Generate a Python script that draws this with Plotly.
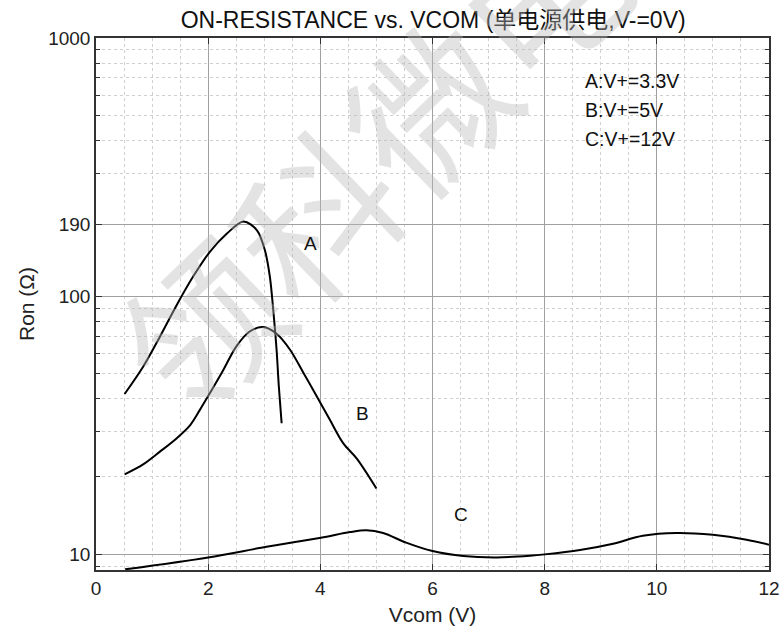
import plotly.graph_objects as go

# ---- data ----
a_x = [0.51, 0.84, 1.14, 1.44, 1.74, 2.03, 2.33, 2.63, 2.87, 3.01, 3.10, 3.16, 3.22, 3.26, 3.31]
a_y = [41.8, 53.3, 69.7, 92.5, 119.9, 148.5, 174.4, 194.7, 180.0, 151.0, 119.0, 88.5, 61.9, 44.7, 32.2]

b_x = [0.51, 0.84, 1.14, 1.44, 1.68, 1.85, 2.03, 2.27, 2.50, 2.74, 2.98, 3.22, 3.46, 3.70, 3.94, 4.17, 4.41, 4.65, 5.00]
b_y = [20.4, 22.3, 25.0, 28.2, 31.7, 36.2, 42.1, 51.8, 63.8, 73.0, 75.9, 71.5, 62.0, 50.4, 40.8, 33.2, 26.9, 23.5, 18.0]

c_x = [0.52, 2.0, 3.04, 4.01, 4.53, 4.82, 5.12, 5.53, 6.0, 6.55, 7.15, 7.74, 8.0, 8.63, 9.22, 9.75, 10.35, 11.0, 11.6, 12.0]
c_y = [8.75, 9.73, 10.7, 11.6, 12.2, 12.4, 12.1, 11.1, 10.3, 9.85, 9.73, 9.88, 10.0, 10.4, 11.0, 11.8, 12.1, 11.9, 11.4, 10.9]

y_ticks = [10, 100, 190, 1000]
y_tick_labels = ["10", "100", "190", "1000"]
y_minor = [9, 20, 30, 40, 50, 60, 70, 80, 90, 300, 400, 500, 600, 700, 800, 900]
x_ticks = [0, 2, 4, 6, 8, 10, 12]

legend_lines = ["A:V+=3.3V", "B:V+=5V", "C:V+=12V"]
curve_labels = ["A", "B", "C"]

FONT = "Liberation Sans, Arial, Noto Sans CJK SC, sans-serif"

fig = go.Figure()
for xs, ys in [(a_x, a_y), (b_x, b_y), (c_x, c_y)]:
    fig.add_trace(go.Scatter(x=xs, y=ys, mode="lines",
                             line=dict(color="black", width=2, shape="spline", smoothing=0.9),
                             showlegend=False, hoverinfo="skip"))

annotations = []
# watermark
annotations.append(dict(text="领科微电", xref="paper", yref="paper", x=0.405, y=0.773,
                        xanchor="center", yanchor="middle",
                        showarrow=False, textangle=-44,
                        font=dict(family="Noto Sans CJK SC", size=158, color="rgba(185,185,185,0.40)")))
# legend text block
for i, t in enumerate(legend_lines):
    annotations.append(dict(text=t, xref="x", yref="paper", x=8.68, y=[0.920, 0.865, 0.810][i],
                            xanchor="left", yanchor="middle", showarrow=False,
                            font=dict(family=FONT, size=19.5, color="#111")))
# curve labels
for t, xx, yy in zip(curve_labels, [3.82, 4.76, 6.51], [0.613, 0.295, 0.105]):
    annotations.append(dict(text=t, xref="x", yref="paper", x=xx, y=yy,
                            xanchor="center", yanchor="middle", showarrow=False,
                            font=dict(family=FONT, size=19, color="#111")))

fig.update_layout(
    width=784, height=639,
    margin=dict(l=96, r=15, t=38, b=69, autoexpand=False),
    paper_bgcolor="white", plot_bgcolor="white",
    font=dict(family=FONT, size=19, color="#222"),
    title=dict(text="ON-RESISTANCE vs. VCOM (单电源供电,V-=0V)", x=0.5525, xanchor="center",
               y=0.969, yanchor="middle", font=dict(family=FONT, size=23, color="#111")),
    annotations=annotations,
)

fig.update_xaxes(
    range=[0, 12], tickmode="array", tickvals=x_ticks, automargin=False,
    showgrid=True, gridcolor="#a0a0a0", gridwidth=1,
    showline=True, linecolor="#333", linewidth=1.5, mirror="ticks",
    ticks="inside", ticklen=6, tickcolor="#333",
    tickfont=dict(size=19, color="#222"),
    zeroline=False,
    minor=dict(dtick=0.5, tick0=0, showgrid=True, gridcolor="#d0d0d0", griddash="dot", gridwidth=1,
               ticks=""),
    title=dict(text="Vcom (V)", font=dict(size=21, color="#222"), standoff=10),
)

fig.update_yaxes(
    type="log", range=[0.9395, 3.0], tickmode="array", tickvals=y_ticks, ticktext=y_tick_labels,
    automargin=False,
    showgrid=True, gridcolor="#a0a0a0", gridwidth=1,
    showline=True, linecolor="#333", linewidth=1.5, mirror="ticks",
    ticks="inside", ticklen=6, tickcolor="#333",
    tickfont=dict(size=19, color="#222"),
    zeroline=False,
    minor=dict(tickmode="array", tickvals=y_minor, showgrid=True, gridcolor="#d0d0d0",
               griddash="dot", gridwidth=1, ticks="inside", ticklen=4, tickcolor="#333"),
    title=dict(text="Ron (Ω)", font=dict(size=21, color="#222"), standoff=8),
)

fig.write_html("out.html", config={"displayModeBar": False},
               post_script="document.body.style.margin='0';")
